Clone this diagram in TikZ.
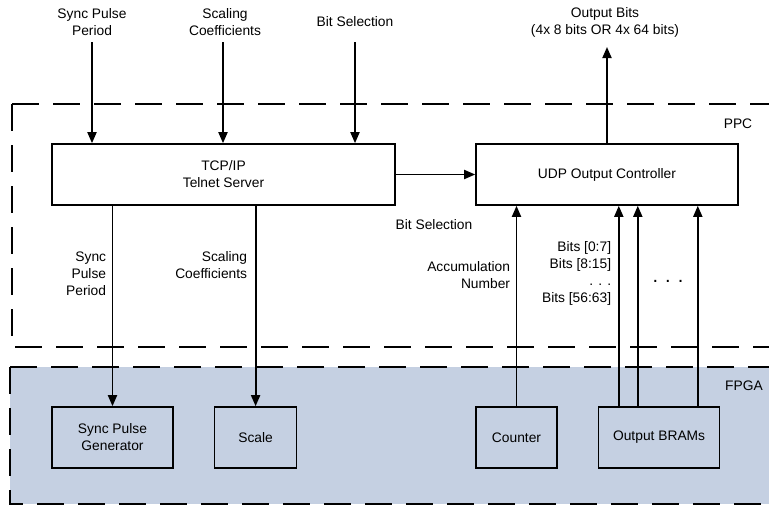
\documentclass[tikz,border=0pt]{standalone}
\usepackage{fontspec}
\setmainfont{Liberation Sans}
\usetikzlibrary{arrows.meta,positioning}
\definecolor{fpgablue}{RGB}{197,208,226}

\begin{document}
\begin{tikzpicture}[->,>={Triangle[length=11pt,width=9pt]},x=1pt,y=-1pt,
                    line width=1.8pt,node distance=40pt,
                    every node/.style={font=\fontsize{13.8}{17}\selectfont}]
  \tikzstyle{block}=[draw=black,line width=1.6pt,minimum height=61pt,align=center,inner sep=2pt]
  \tikzstyle{region}=[-,line width=2.2pt,dash pattern=on 27pt off 14pt]
  \tikzstyle{lbl}=[align=center,inner sep=0pt]
  \tikzstyle{rlbl}=[align=right,inner sep=0pt,anchor=east]

  \useasboundingbox (0,0) rectangle (769,506);
  \clip (0,0) rectangle (769,506);

  % FPGA and PPC regions
  \fill[fpgablue] (10,367) rectangle (790,504);
  \draw[region] (10,367) -- (790,367);
  \draw[region] (10,367) -- (10,504) -- (790,504);
  \draw[region] (12,104) -- (790,104);
  \draw[region] (12,104) -- (12,347) -- (790,347);
  \node (ppc) at (738,124) {PPC};
  \node (fpga) at (744,386) {FPGA};

  \node[block,minimum width=343pt] (tcp) at (223.5,174.5) {TCP/IP\\Telnet Server};
  \node[block,minimum width=262pt] (udp) at (607,174.5) {UDP Output Controller};
  \node[block,minimum width=121pt] (syncgen) at (112.5,437.5) {Sync Pulse\\Generator};
  \node[block,minimum width=82pt]  (scale)   [right=40pt of syncgen] {Scale};
  \node[block,minimum width=81pt]  (counter) at (516.5,437.5) {Counter};
  \node[block,minimum width=121pt] (brams)   [right=40pt of counter] {Output BRAMs};

  \node[lbl] (periodin) at (92,22)  {Sync Pulse\\Period};
  \node[lbl] (scalein)  at (225,22) {Scaling\\Coefficients};
  \node[lbl] (bitin)    at (355,22) {Bit Selection};
  \node[lbl] (bitsout)  at (605,22) {Output Bits\\(4x 8 bits OR 4x 64 bits)};
  \coordinate (pin) at (92,42);
  \coordinate (sin) at (223,42);
  \coordinate (bin) at (355,42);
  \coordinate (otip) at (607,47);

  \node (bitsel) at (434,225) {Bit Selection};
  \node[rlbl] (syncpl) at (107,274)  {Sync\\Pulse\\Period};
  \node[rlbl] (scalel) at (248,265.5) {Scaling\\Coefficients};
  \node[rlbl] (accl)   at (511,275)  {Accumulation\\Number};
  \node[rlbl] (bitsl)  at (612,273)  {Bits [0:7]\\Bits [8:15]\\. . .\\Bits [56:63]};
  \node[font=\fontsize{20}{20}\selectfont,inner sep=0pt] (dots) at (668,281) {.\hspace{7pt}.\hspace{7pt}.};

  \path (pin) edge (pin |- tcp.north)
        (sin) edge (sin |- tcp.north)
        (bin) edge (bin |- tcp.north)
        (udp.north) edge (otip)
        (tcp) edge (udp)
        (tcp.south -| syncgen.north) edge (syncgen.north)
        (tcp.south -| scale.north) edge (scale.north)
        (counter.north) edge (counter.north |- udp.south)
        ([xshift=21pt]brams.north west) edge ([xshift=21pt]brams.north west |- udp.south)
        ([xshift=40pt]brams.north west) edge ([xshift=40pt]brams.north west |- udp.south)
        ([xshift=100pt]brams.north west) edge ([xshift=100pt]brams.north west |- udp.south);
\end{tikzpicture}
\end{document}
